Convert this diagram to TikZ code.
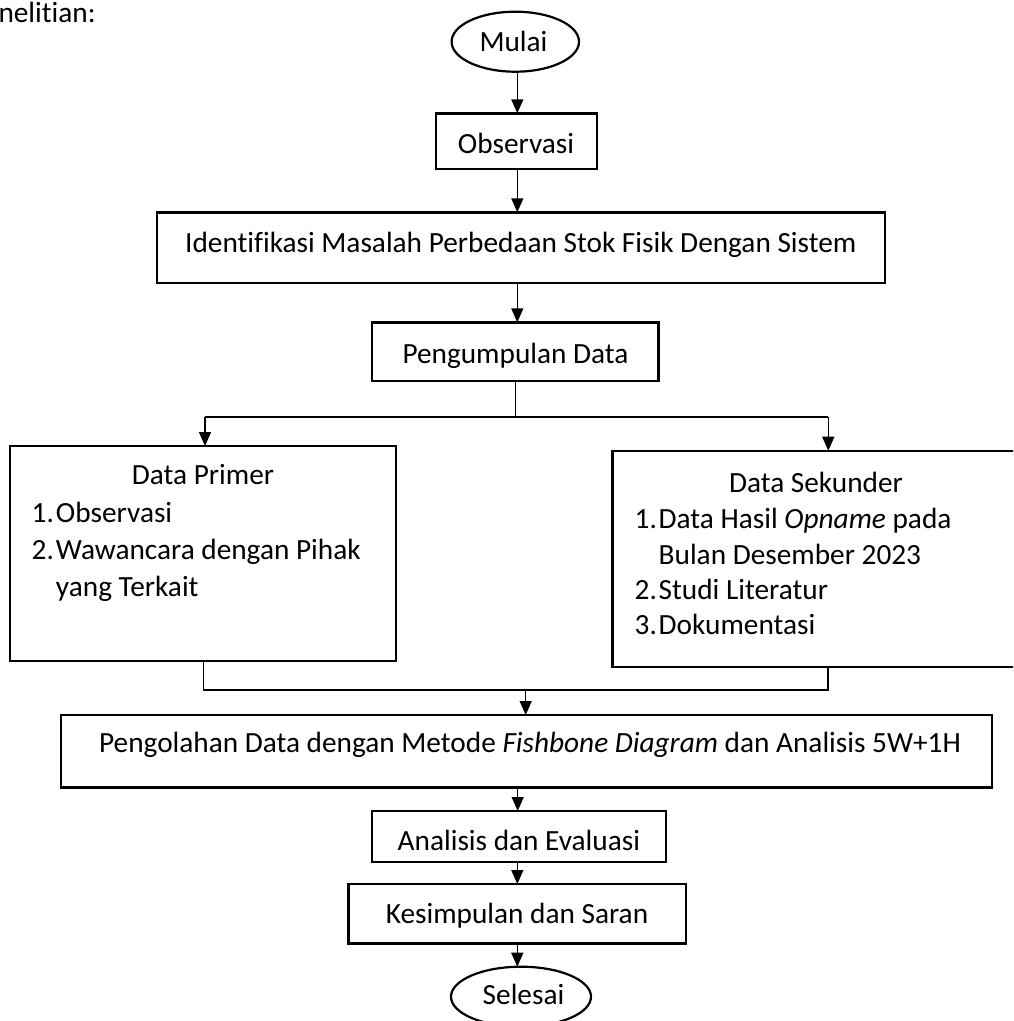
\documentclass[tikz,border=0pt]{standalone}
\usepackage{fontspec}
\setmainfont{Carlito}[Ligatures=NoCommon]
\usetikzlibrary{shapes.geometric,arrows.meta}
\begin{document}
\begin{tikzpicture}[x=1pt,y=-1pt,
  every node/.style={font=\fontsize{29.3}{36}\selectfont, inner sep=0pt, outer sep=0pt},
  box/.style={draw, line width=2.4pt, rectangle, fill=white},
  oval/.style={draw, line width=2.2pt, ellipse, fill=white},
  txt/.style={anchor=base},
  txtl/.style={anchor=base west},
  conn/.style={line width=1.6pt},
  thinconn/.style={line width=1pt},
  arr/.style={line width=1.4pt, -{Triangle[width=12pt,length=14pt]}},
]
\useasboundingbox (0,0) rectangle (1013,1021);
\fill[white] (0,0) rectangle (1013,1021);
\clip (0,0) rectangle (1013,1021);

\node[txtl] (intro) at (-1.5,22) {nelitian:};

% shapes
\node[oval, minimum width=127.4pt, minimum height=60pt] (mulai) at (515.3,41.7) {};
\node[txt] (mulait) at (513.5,51) {Mulai};

\node[box, minimum width=160.7pt, minimum height=55.7pt] (obs) at (516.35,141.15) {};
\node[txt] (obst) at (516,153.5) {Observasi};

\node[box, minimum width=728.3pt, minimum height=70.4pt] (ident) at (520.85,247.5) {};
\node[txt] (identt) at (520.8,252.5) {Identifikasi Masalah Perbedaan Stok Fisik Dengan Sistem};

\node[box, minimum width=286.6pt, minimum height=58.4pt] (peng) at (515,351.5) {};
\node[txt] (pengt) at (515.5,363) {Pengumpulan Data};

\node[box, minimum width=385.7pt, minimum height=214.7pt] (prim) at (202.85,553.35) {};
\node[txt] (primt) at (203,484.5) {Data Primer};
\node[txtl] (p1n) at (31.7,522) {1.};
\node[txtl] (p1) at (56,522) {Observasi};
\node[txtl] (p2n) at (31.7,559) {2.};
\node[txtl] (p2) at (56,559) {Wawancara dengan Pihak};
\node[txtl] (p2b) at (56,596) {yang Terkait};

\node[box, minimum width=407.7pt, minimum height=216pt] (sek) at (816.15,558.7) {};
\node[txt] (sekt) at (816,492) {Data Sekunder};
\node[txtl] (s1n) at (634.7,528.5) {1.};
\node[txtl] (s1) at (658.7,528.5) {Data Hasil \textit{Opname} pada};
\node[txtl] (s1b) at (658.7,564.5) {Bulan Desember 2023};
\node[txtl] (s2n) at (634.7,599.5) {2.};
\node[txtl] (s2) at (658.7,599.5) {Studi Literatur};
\node[txtl] (s3n) at (634.7,634.5) {3.};
\node[txtl] (s3) at (658.7,634.5) {Dokumentasi};

\node[box, minimum width=931pt, minimum height=72.3pt] (olah) at (526.5,751.15) {};
\node[txt] (olaht) at (530,752.5) {Pengolahan Data dengan Metode \textit{Fishbone Diagram} dan Analisis 5W+1H};

\node[box, minimum width=294pt, minimum height=50.7pt] (anal) at (518.7,836.35) {};
\node[txt] (analt) at (518.9,850.5) {Analisis dan Evaluasi};

\node[box, minimum width=337.4pt, minimum height=59.3pt] (kes) at (517,913.65) {};
\node[txt] (kest) at (517,923) {Kesimpulan dan Saran};

\node[oval, minimum width=140pt, minimum height=60pt] (sel) at (521,996.7) {};
\node[txt] (selt) at (523.5,1004.5) {Selesai};

% connectors
\coordinate (ax) at (517.3,0);
\coordinate (ax2) at (517.7,0);
\draw[arr] (mulai.south -| ax) -- (obs.north -| ax);
\draw[arr] (obs.south -| ax) -- (ident.north -| ax);
\draw[arr] (ident.south -| ax) -- (peng.north -| ax);

\coordinate (bc) at (515,416.7);
\coordinate (bl) at (205,416.7);
\coordinate (br) at (828.3,416.7);
\draw[thinconn] (peng.south -| bc) -- (bc);
\draw[conn] (bl) -- (br);
\draw[arr] (bl) -- (prim.north -| bl);
\draw[arr] (br) -- (sek.north -| br);

\coordinate (ml) at (203.3,690);
\coordinate (mr) at (828,690);
\coordinate (mc) at (525.7,690);
\draw[conn] (prim.south -| ml) -- (ml) -- (mr) -- (sek.south -| mr);
\draw[arr] (mc) -- (olah.north -| mc);

\draw[arr] (olah.south -| ax2) -- (anal.north -| ax2);
\draw[arr] (anal.south -| ax) -- (kes.north -| ax);
\draw[arr] (kes.south -| ax) -- (sel.north -| ax);
\end{tikzpicture}
\end{document}
